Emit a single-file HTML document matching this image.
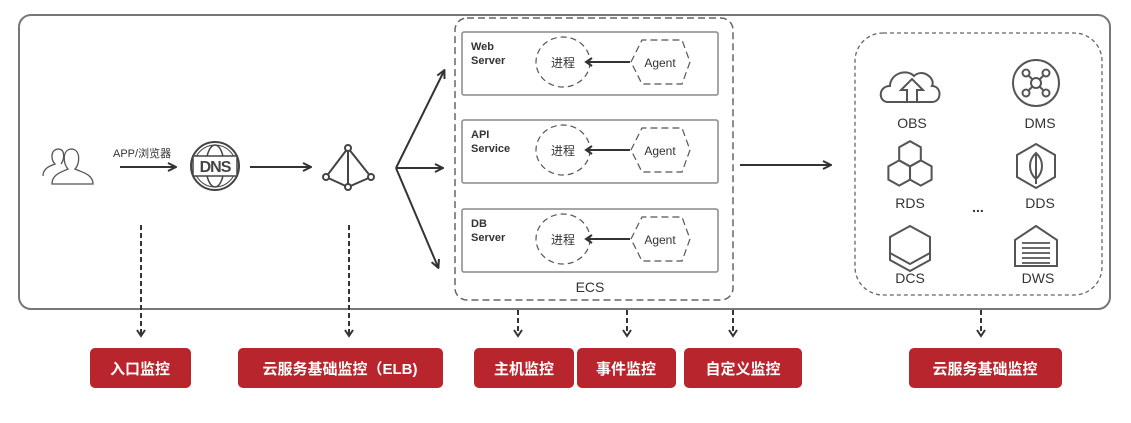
<!DOCTYPE html>
<html><head><meta charset="utf-8"><style>
html,body{margin:0;padding:0;background:#fff;}
svg{display:block;}
text{font-family:"Liberation Sans","Noto Sans CJK SC",sans-serif;}
</style></head><body>
<svg width="1131" height="423" viewBox="0 0 1131 423" xmlns="http://www.w3.org/2000/svg">
<defs>
<marker id="ah" markerWidth="10" markerHeight="10" refX="8" refY="5" orient="auto" markerUnits="userSpaceOnUse">
<path d="M1,1 L9,5 L1,9" fill="none" stroke="#333" stroke-width="2"/>
</marker>
<marker id="ah2" markerWidth="10" markerHeight="10" refX="8" refY="5" orient="auto" markerUnits="userSpaceOnUse">
<path d="M2,1 L8,5 L2,9" fill="none" stroke="#333" stroke-width="2"/>
</marker>
<g id="row">
<rect x="462" y="0" width="256" height="63" rx="2" fill="#fff" stroke="#888" stroke-width="1.5"/>
<ellipse cx="563" cy="30" rx="27" ry="25" fill="none" stroke="#555" stroke-width="1.2" stroke-dasharray="6,4"/>
<text x="563" y="35" font-size="12" text-anchor="middle" fill="#333">进程</text>
<polygon points="631,30 642,8 682,8 690,30 682,52 642,52" fill="none" stroke="#555" stroke-width="1.2" stroke-dasharray="7,4"/>
<text x="660" y="35" font-size="12" text-anchor="middle" fill="#333">Agent</text>
<line x1="630" y1="30" x2="586" y2="30" stroke="#333" stroke-width="2" marker-end="url(#ah2)"/>
</g>
</defs>
<rect x="19" y="15" width="1091" height="294" rx="12" fill="none" stroke="#777" stroke-width="2"/>

<g fill="none" stroke="#555" stroke-width="1.3">
<path d="M43,176 C43,168 50,166 55,164 C51,160 50,150 58,149 C66,149 64,160 61,164"/>
<path d="M52,184 C52,174 62,172 68,169 C63,164 62,150 71,149 C81,149 80,164 75,169 C81,172 93,174 93,184 Z" fill="#fff"/>
</g>
<text x="113" y="157" font-size="11" fill="#333">APP/浏览器</text>
<line x1="120" y1="167" x2="175" y2="167" stroke="#333" stroke-width="2" marker-end="url(#ah)"/>
<circle cx="215" cy="166" r="24" fill="none" stroke="#444" stroke-width="2"/>
<circle cx="215" cy="166" r="21" fill="none" stroke="#444" stroke-width="1"/>
<ellipse cx="215" cy="166" rx="9" ry="21" fill="none" stroke="#444" stroke-width="1.5"/>
<rect x="193" y="156" width="44" height="20" fill="#fff" stroke="#444" stroke-width="1.5"/>
<text x="215" y="172" font-size="16" font-weight="bold" text-anchor="middle" fill="#444" letter-spacing="-1">DNS</text>
<line x1="250" y1="167" x2="310" y2="167" stroke="#333" stroke-width="2" marker-end="url(#ah)"/>
<g stroke="#444" stroke-width="2" fill="#fff">
<path d="M348,148 L326,177 L348,187 L371,177 Z M348,148 L348,187" fill="none"/>
<circle cx="348" cy="148" r="3"/><circle cx="326" cy="177" r="3"/><circle cx="348" cy="187" r="3"/><circle cx="371" cy="177" r="3"/>
</g>
<g stroke="#333" stroke-width="2" fill="none">
<line x1="396" y1="168" x2="444" y2="71" marker-end="url(#ah)"/>
<line x1="396" y1="168" x2="442" y2="168" marker-end="url(#ah)"/>
<line x1="396" y1="168" x2="438" y2="267" marker-end="url(#ah)"/>
</g>

<rect x="455" y="18" width="278" height="282" rx="12" fill="none" stroke="#666" stroke-width="1.5" stroke-dasharray="7,4"/>
<use href="#row" transform="translate(0,32)"/>
<use href="#row" transform="translate(0,120)"/>
<use href="#row" transform="translate(0,209)"/>
<g font-size="11" font-weight="bold" fill="#333">
<text x="471" y="50">Web</text><text x="471" y="64">Server</text>
<text x="471" y="138">API</text><text x="471" y="152">Service</text>
<text x="471" y="227">DB</text><text x="471" y="241">Server</text>
</g>
<text x="590" y="292" font-size="14" text-anchor="middle" fill="#333">ECS</text>

<line x1="740" y1="165" x2="830" y2="165" stroke="#333" stroke-width="2" marker-end="url(#ah)"/>

<rect x="855" y="33" width="247" height="262" rx="28" fill="none" stroke="#666" stroke-width="1.3" stroke-dasharray="4,3"/>
<g fill="none" stroke="#555" stroke-width="2">
<path d="M888,102 C878,102 878,86 890,86 C890,74 906,68 914,76 C922,68 936,78 932,86 C942,86 942,102 932,102 Z"/>
<path d="M907,102 L907,90 L901,90 L912,79 L923,90 L917,90 L917,102"/>
<circle cx="1036" cy="83" r="23"/>
<circle cx="1036" cy="83" r="5"/>
<circle cx="1026" cy="73" r="3.5"/><circle cx="1046" cy="73" r="3.5"/><circle cx="1026" cy="93" r="3.5"/><circle cx="1046" cy="93" r="3.5"/>
<path d="M1029,76 L1033,80 M1043,76 L1039,80 M1029,90 L1033,86 M1043,90 L1039,86"/>
<g transform="translate(910,164) scale(1.2) translate(-910,-167)" stroke-width="1.7">
<path d="M910,148 L919,153 L919,164 L910,169 L901,164 L901,153 Z"/>
<path d="M901,164 L910,169 L910,180 L901,185 L892,180 L892,169 Z"/>
<path d="M919,164 L928,169 L928,180 L919,185 L910,180 L910,169 Z"/>
</g>
<path d="M1036,144 L1055,155 L1055,177 L1036,188 L1017,177 L1017,155 Z"/>
<path d="M1036,153 C1028,160 1028,172 1036,179 C1044,172 1044,160 1036,153 Z M1036,153 L1036,184"/>
<path d="M910,226 L930,237 L930,260 L910,271 L890,260 L890,237 Z"/>
<path d="M890,253 L910,264 L930,253"/>
<path d="M1036,226 L1057,240 L1057,266 L1015,266 L1015,240 Z"/>
<path d="M1022,243 H1050 M1022,248 H1050 M1022,253 H1050 M1022,258 H1050 M1022,263 H1050" stroke-width="1.8"/>
</g>
<g font-size="14" fill="#333" text-anchor="middle">
<text x="912" y="128">OBS</text><text x="1040" y="128">DMS</text>
<text x="910" y="208">RDS</text><text x="1040" y="208">DDS</text>
<text x="910" y="283">DCS</text><text x="1038" y="283">DWS</text>
<text x="978" y="212" font-weight="bold">...</text>
</g>

<g stroke="#333" stroke-width="2" stroke-dasharray="5,3" fill="none">
<line x1="141" y1="225" x2="141" y2="336" marker-end="url(#ah2)"/>
<line x1="349" y1="225" x2="349" y2="336" marker-end="url(#ah2)"/>
<line x1="518" y1="310" x2="518" y2="336" marker-end="url(#ah2)"/>
<line x1="627" y1="310" x2="627" y2="336" marker-end="url(#ah2)"/>
<line x1="733" y1="310" x2="733" y2="336" marker-end="url(#ah2)"/>
<line x1="981" y1="310" x2="981" y2="336" marker-end="url(#ah2)"/>
</g>

<g fill="#b8252d">
<rect x="90" y="348" width="101" height="40" rx="5"/>
<rect x="238" y="348" width="205" height="40" rx="5"/>
<rect x="474" y="348" width="100" height="40" rx="5"/>
<rect x="577" y="348" width="99" height="40" rx="5"/>
<rect x="684" y="348" width="118" height="40" rx="5"/>
<rect x="909" y="348" width="153" height="40" rx="5"/>
</g>
<g font-size="15" font-weight="bold" fill="#fff" text-anchor="middle">
<text x="140" y="374">入口监控</text>
<text x="340" y="374">云服务基础监控（ELB)</text>
<text x="524" y="374">主机监控</text>
<text x="626" y="374">事件监控</text>
<text x="743" y="374">自定义监控</text>
<text x="985" y="374">云服务基础监控</text>
</g>
</svg>
</body></html>
